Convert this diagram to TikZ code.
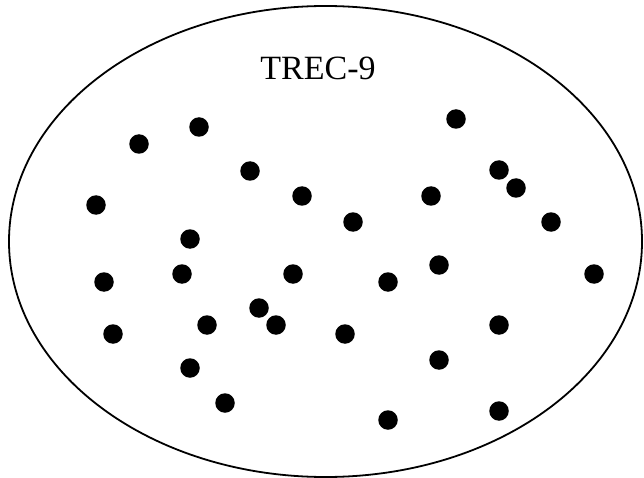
\documentclass[tikz,border=0pt]{standalone}
\usepackage{fontspec}
\setmainfont{Liberation Serif}
\usepackage{tikz}
\usetikzlibrary{shapes.geometric, positioning}

\begin{document}
\begin{tikzpicture}[x=1pt, y=-1pt,
    point/.style={circle, fill=black, inner sep=0pt, minimum size=19.5pt}]
        \useasboundingbox (0,0) rectangle (644,478);

        % Collection boundary
        \node[draw, ellipse, line width=1.8pt, minimum width=633pt, minimum height=471pt,
              inner sep=0pt] (trec) at (325.5,241.5) {};
        \node[font=\fontsize{34}{40}\selectfont] (title) at (318,68.5) {TREC-9};

        % Documents
        \foreach \x/\y [count=\i] in {139/144, 199/127, 96/205, 250/171, 302/196,
            190/239, 353/222, 456/119, 499/170, 516/188, 431/196, 551/222,
            104/282, 182/274, 293/274, 388/282, 439/265, 594/274,
            113/334, 207/325, 259/308, 276/325, 345/334, 499/325,
            190/368, 439/360, 225/403, 388/420, 499/411} {
          \node[point] (d\i) at (\x,\y) {};
        }
      \end{tikzpicture}
\end{document}
